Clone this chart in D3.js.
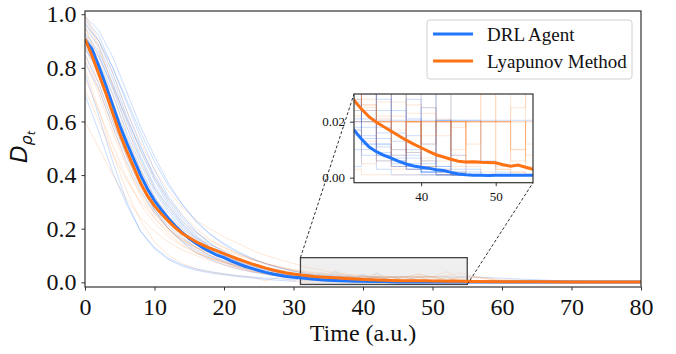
<!DOCTYPE html>
<html>
<head>
<meta charset="UTF-8">
<title>DRL Agent vs Lyapunov Method</title>
<style>
  body { margin: 0; background: #fff; }
  text { font-family: "Liberation Serif", "Times New Roman", Times, serif; fill: #111; }
  .axis path, .axis line { stroke: #333; }
</style>
</head>
<body>
<svg width="676" height="354"></svg>
<script src="https://cdn.jsdelivr.net/npm/d3@7"></script>
<script>
// time grid for the averaged curves
var meanT = [0,1,2,3,4,5,6,7,8,9,10,11,12,13,14,15,16,17,18,19,20,21,22,23,24,25,26,27,28,29,30,
  31,32,33,34,35,36,37,38,39,40,41,42,43,44,45,46,47,48,49,50,51,52,53,54,55,56,60,65,70,75,80];

var drlMean = [0.905,0.87,0.805,0.735,0.66,0.585,0.52,0.46,0.40,0.348,0.305,0.27,0.238,0.21,0.185,0.163,0.145,0.128,0.114,0.101,0.092,
  0.08,0.07,0.06,0.052,0.044,0.037,0.031,0.026,0.022,0.019,
  0.017,0.0138,0.011,0.0093,0.008,0.007,0.0058,0.0049,0.0042,0.0037,0.0034,0.0028,0.0026,0.0019,0.0013,0.001,0.0009,0.0009,0.0008,0.0009,
  0.0009,0.0009,0.0009,0.0009,0.0009,0.0009,0.0008,0.0008,0.0007,0.0007,0.0007];

var lyaMean = [0.907,0.845,0.775,0.705,0.63,0.555,0.49,0.43,0.37,0.322,0.285,0.255,0.228,0.203,0.182,0.166,0.151,0.139,0.127,0.117,0.107,
  0.097,0.087,0.078,0.069,0.061,0.053,0.046,0.04,0.035,0.031,
  0.0277,0.0245,0.0218,0.0198,0.0182,0.0166,0.015,0.0134,0.012,0.0107,0.0094,0.0082,0.0074,0.0066,0.0059,0.0056,0.0057,0.0055,0.0054,0.0053,
  0.0046,0.0041,0.0045,0.0037,0.003,0.0028,0.0022,0.0018,0.0015,0.0012,0.001];

// time grid for the single runs
var runT = [0,2,4,6,8,10,12,14,16,18,20,22,24,26,28,30,32,34,36,38,40,42,44,46,48,50,52,54,56,60,70,80];

var drlRuns = [
  [0.98,0.92,0.80,0.68,0.56,0.45,0.36,0.29,0.23,0.18,0.145,0.115,0.09,0.07,0.055,0.042,0.034,0.028,0.024,0.021,0.0205,0.0205,0.0205,0.0205,0.0205,0.0205,0.0205,0.0205,0.0205,0.015,0.004,0.001],
  [0.95,0.88,0.76,0.62,0.49,0.38,0.29,0.22,0.17,0.13,0.10,0.075,0.055,0.04,0.03,0.024,0.018,0.012,0.004,0.015,0.002,0.001,0.001,0.001,0.001,0.001,0.001,0.001,0.001,0.001,0.001,0.001],
  [0.70,0.56,0.41,0.29,0.19,0.125,0.085,0.06,0.045,0.035,0.028,0.021,0.016,0.011,0.007,0.004,0.03,0.003,0.001,0.001,0.001,0.001,0.001,0.001,0.001,0.001,0.001,0.001,0.001,0.001,0.001,0.001],
  [0.92,0.85,0.72,0.58,0.46,0.35,0.27,0.21,0.16,0.125,0.095,0.07,0.05,0.035,0.025,0.018,0.01,0.035,0.008,0.004,0.002,0.001,0.001,0.001,0.001,0.001,0.001,0.001,0.001,0.001,0.001,0.001],
  [0.85,0.74,0.60,0.47,0.36,0.27,0.21,0.165,0.13,0.10,0.08,0.062,0.048,0.036,0.027,0.02,0.014,0.009,0.006,0.028,0.003,0.002,0.001,0.001,0.001,0.001,0.001,0.001,0.001,0.001,0.001,0.001],
  [0.99,0.94,0.84,0.71,0.58,0.47,0.37,0.29,0.225,0.178,0.14,0.11,0.087,0.068,0.053,0.041,0.031,0.024,0.016,0.01,0.03,0.004,0.002,0.001,0.001,0.001,0.001,0.001,0.001,0.001,0.001,0.001],
  [0.78,0.62,0.45,0.30,0.19,0.13,0.09,0.065,0.05,0.04,0.032,0.025,0.02,0.016,0.013,0.01,0.008,0.006,0.004,0.003,0.002,0.001,0.001,0.001,0.001,0.001,0.001,0.001,0.001,0.001,0.001,0.001],
  [0.90,0.82,0.70,0.56,0.44,0.34,0.26,0.20,0.155,0.12,0.09,0.07,0.05,0.037,0.027,0.02,0.03,0.012,0.006,0.003,0.001,0.001,0.001,0.001,0.001,0.001,0.001,0.001,0.001,0.001,0.001,0.001],
  [0.96,0.90,0.80,0.67,0.54,0.42,0.32,0.25,0.19,0.145,0.11,0.085,0.065,0.05,0.038,0.028,0.021,0.0205,0.0205,0.0205,0.012,0.0205,0.008,0.003,0.001,0.001,0.001,0.001,0.001,0.001,0.001,0.001],
  [0.88,0.78,0.63,0.49,0.37,0.27,0.20,0.15,0.11,0.085,0.065,0.05,0.038,0.03,0.022,0.015,0.012,0.008,0.04,0.005,0.003,0.002,0.001,0.001,0.001,0.001,0.001,0.001,0.001,0.001,0.001,0.001],
  [0.93,0.86,0.74,0.60,0.47,0.36,0.28,0.215,0.165,0.13,0.10,0.078,0.06,0.045,0.034,0.026,0.02,0.016,0.03,0.008,0.005,0.0205,0.003,0.002,0.001,0.001,0.001,0.001,0.001,0.001,0.001,0.001],
  [0.82,0.72,0.58,0.45,0.34,0.26,0.20,0.155,0.12,0.095,0.075,0.058,0.044,0.033,0.024,0.017,0.012,0.008,0.005,0.003,0.002,0.035,0.001,0.001,0.001,0.001,0.001,0.001,0.001,0.001,0.001,0.001],
  [0.90,0.84,0.73,0.61,0.50,0.40,0.31,0.24,0.185,0.145,0.115,0.09,0.07,0.054,0.042,0.032,0.024,0.018,0.013,0.009,0.006,0.004,0.0205,0.0205,0.006,0.002,0.001,0.001,0.001,0.001,0.001,0.001],
  [0.87,0.79,0.67,0.54,0.42,0.32,0.245,0.19,0.15,0.115,0.088,0.066,0.05,0.038,0.028,0.021,0.015,0.011,0.007,0.004,0.025,0.002,0.001,0.001,0.001,0.001,0.001,0.001,0.001,0.001,0.001,0.001],
  [0.97,0.90,0.78,0.64,0.51,0.39,0.30,0.23,0.175,0.135,0.105,0.082,0.063,0.048,0.036,0.027,0.02,0.014,0.01,0.007,0.004,0.003,0.002,0.001,0.001,0.001,0.001,0.001,0.001,0.001,0.001,0.001]
];

var lyaRuns = [
  [1.0,0.90,0.78,0.64,0.52,0.42,0.34,0.28,0.23,0.20,0.17,0.145,0.12,0.10,0.085,0.07,0.055,0.045,0.035,0.03,0.025,0.02,0.02,0.012,0.02,0.02,0.01,0.004,0.003,0.002,0.001,0.001],
  [0.60,0.50,0.40,0.31,0.24,0.19,0.15,0.12,0.10,0.08,0.065,0.05,0.04,0.032,0.025,0.02,0.005,0.02,0.003,0.02,0.004,0.02,0.002,0.001,0.001,0.001,0.001,0.001,0.001,0.001,0.001,0.001],
  [0.93,0.80,0.65,0.50,0.37,0.27,0.20,0.15,0.115,0.09,0.07,0.055,0.043,0.033,0.025,0.02,0.02,0.006,0.02,0.02,0.003,0.001,0.001,0.001,0.001,0.001,0.001,0.001,0.001,0.001,0.001,0.001],
  [0.85,0.72,0.58,0.44,0.32,0.24,0.18,0.14,0.11,0.09,0.075,0.062,0.05,0.04,0.033,0.028,0.024,0.02,0.045,0.02,0.015,0.02,0.01,0.02,0.02,0.004,0.02,0.003,0.002,0.001,0.001,0.001],
  [0.97,0.87,0.74,0.61,0.49,0.39,0.31,0.25,0.20,0.16,0.13,0.105,0.085,0.07,0.057,0.046,0.038,0.032,0.027,0.023,0.02,0.02,0.018,0.02,0.03,0.02,0.04,0.012,0.006,0.003,0.001,0.001],
  [0.80,0.64,0.48,0.34,0.23,0.15,0.10,0.07,0.05,0.038,0.03,0.024,0.02,0.005,0.02,0.003,0.001,0.001,0.001,0.001,0.001,0.001,0.001,0.001,0.001,0.001,0.001,0.001,0.001,0.001,0.001,0.001],
  [0.91,0.78,0.62,0.47,0.35,0.26,0.20,0.16,0.13,0.11,0.095,0.08,0.065,0.05,0.04,0.032,0.026,0.02,0.02,0.009,0.02,0.006,0.02,0.02,0.005,0.003,0.002,0.001,0.001,0.001,0.001,0.001],
  [0.72,0.60,0.48,0.38,0.30,0.24,0.19,0.155,0.125,0.10,0.08,0.065,0.05,0.04,0.03,0.022,0.03,0.02,0.01,0.02,0.004,0.002,0.001,0.001,0.001,0.001,0.001,0.001,0.001,0.001,0.001,0.001],
  [0.95,0.84,0.70,0.55,0.42,0.32,0.25,0.20,0.165,0.14,0.12,0.10,0.085,0.07,0.058,0.048,0.04,0.035,0.03,0.026,0.023,0.021,0.02,0.02,0.02,0.02,0.025,0.035,0.02,0.01,0.002,0.001],
  [0.88,0.74,0.60,0.47,0.36,0.28,0.22,0.17,0.13,0.10,0.075,0.055,0.04,0.03,0.022,0.017,0.013,0.02,0.008,0.02,0.006,0.003,0.02,0.004,0.002,0.001,0.001,0.001,0.001,0.001,0.001,0.001],
  [0.90,0.78,0.64,0.50,0.38,0.29,0.23,0.18,0.145,0.12,0.10,0.082,0.066,0.052,0.04,0.031,0.025,0.02,0.02,0.02,0.007,0.02,0.02,0.005,0.02,0.003,0.002,0.001,0.001,0.001,0.001,0.001],
  [0.83,0.70,0.56,0.43,0.33,0.255,0.20,0.16,0.13,0.11,0.092,0.076,0.062,0.05,0.04,0.032,0.026,0.021,0.017,0.02,0.012,0.02,0.008,0.02,0.02,0.02,0.006,0.02,0.02,0.004,0.001,0.001],
  [0.95,0.82,0.67,0.52,0.39,0.30,0.235,0.185,0.15,0.125,0.105,0.088,0.072,0.058,0.046,0.036,0.028,0.022,0.02,0.003,0.02,0.02,0.004,0.001,0.001,0.001,0.001,0.001,0.001,0.001,0.001,0.001],
  [0.76,0.64,0.51,0.39,0.29,0.22,0.17,0.135,0.11,0.09,0.074,0.06,0.048,0.038,0.03,0.024,0.02,0.02,0.004,0.02,0.02,0.03,0.02,0.006,0.02,0.02,0.01,0.02,0.005,0.002,0.001,0.001],
  [0.99,0.88,0.73,0.58,0.45,0.35,0.28,0.225,0.185,0.155,0.13,0.108,0.088,0.07,0.055,0.043,0.034,0.027,0.022,0.02,0.02,0.015,0.02,0.02,0.03,0.02,0.02,0.008,0.02,0.006,0.002,0.001]
];

var seriesNames = ["DRL Agent", "Lyapunov Method"];
var xTicks = [0,10,20,30,40,50,60,70,80];
var yTicks = [0,0.2,0.4,0.6,0.8,1.0];
var insetXTicks = [40,50];
var insetYTicks = [0,0.02];
var zoomBox = {t0: 31, t1: 55, y0: -0.008, y1: 0.092};

var blue = "#2176ff", orange = "#ff7214";
var serif = "'Liberation Serif', 'Times New Roman', Times, serif";

var svg = d3.select("svg");

var x = d3.scaleLinear().domain([0, 80]).range([85, 641]);
var y = d3.scaleLinear().domain([-0.0175, 1.012]).range([287, 11]);

svg.append("defs").append("clipPath").attr("id", "mainClip")
  .append("rect").attr("x", 85).attr("y", 11).attr("width", 556).attr("height", 276);

function drawLines(g, xs, ys, curve) {
  var runLine = d3.line().curve(curve).x(function(d, i) { return xs(runT[i]); }).y(function(d) { return ys(d); });
  var meanLine = d3.line().x(function(d, i) { return xs(meanT[i]); }).y(function(d) { return ys(d); });

  g.selectAll(".drlRun").data(drlRuns).enter().append("path")
    .attr("d", runLine).attr("fill", "none")
    .attr("stroke", blue).attr("stroke-opacity", 0.3).attr("stroke-width", 0.8);
  g.selectAll(".lyaRun").data(lyaRuns).enter().append("path")
    .attr("d", runLine).attr("fill", "none")
    .attr("stroke", orange).attr("stroke-opacity", 0.22).attr("stroke-width", 0.8);
  return meanLine;
}

function drawMeans(g, meanLine) {
  g.append("path").attr("d", meanLine(drlMean)).attr("fill", "none")
    .attr("stroke", blue).attr("stroke-width", 3);
  g.append("path").attr("d", meanLine(lyaMean)).attr("fill", "none")
    .attr("stroke", orange).attr("stroke-width", 3);
}

function styleAxis(g, size) {
  g.attr("font-family", serif).attr("font-size", size);
  g.select(".domain").remove();
  g.selectAll("text").style("font-family", serif).style("font-size", size + "px").attr("fill", "#111");
}

// main plot
var plot = svg.append("g").attr("clip-path", "url(#mainClip)");
var mainMean = drawLines(plot, x, y, d3.curveLinear);

plot.append("rect")
  .attr("x", x(zoomBox.t0)).attr("y", y(zoomBox.y1))
  .attr("width", x(zoomBox.t1) - x(zoomBox.t0))
  .attr("height", y(zoomBox.y0) - y(zoomBox.y1))
  .attr("fill", "#d8d8d8").attr("fill-opacity", 0.4)
  .attr("stroke", "#444").attr("stroke-width", 1.3);

drawMeans(plot, mainMean);

// frame
svg.append("rect").attr("x", 85).attr("y", 11).attr("width", 556).attr("height", 276)
  .attr("fill", "none").attr("stroke", "#333").attr("stroke-width", 1.2);

svg.append("g").attr("class", "axis")
  .attr("transform", "translate(0,287)")
  .call(d3.axisBottom(x).tickValues(xTicks).tickSize(3.5).tickPadding(7).tickFormat(d3.format("d")))
  .call(styleAxis, 24);

svg.append("g").attr("class", "axis")
  .attr("transform", "translate(85,0)")
  .call(d3.axisLeft(y).tickValues(yTicks).tickSize(3.5).tickPadding(5).tickFormat(d3.format(".1f")))
  .call(styleAxis, 24);

svg.append("text")
  .attr("x", 363).attr("y", 341)
  .attr("text-anchor", "middle")
  .style("font-size", "24px")
  .text("Time (a.u.)");

var ylab = svg.append("text")
  .attr("transform", "translate(27,147) rotate(-90)")
  .attr("text-anchor", "middle")
  .style("font-family", "DejaVu Sans")
  .style("font-style", "italic");
ylab.append("tspan").style("font-size", "23px").text("D");
ylab.append("tspan").style("font-size", "16px").attr("dy", 5).text("\u03c1");
ylab.append("tspan").style("font-size", "11px").attr("dy", 3).text("t");

// inset
var xi = d3.scaleLinear().domain([zoomBox.t0, zoomBox.t1]).range([354, 533]);
var yi = d3.scaleLinear().domain([-0.0018, 0.0299]).range([182.7, 94]);

// connector lines from the box to the inset
svg.append("line")
  .attr("x1", x(zoomBox.t0)).attr("y1", y(zoomBox.y1)).attr("x2", 354).attr("y2", 94)
  .attr("stroke", "#333").attr("stroke-width", 1).attr("stroke-dasharray", "3,2");
svg.append("line")
  .attr("x1", x(zoomBox.t1)).attr("y1", y(zoomBox.y0)).attr("x2", 533).attr("y2", 182.7)
  .attr("stroke", "#333").attr("stroke-width", 1).attr("stroke-dasharray", "3,2");

svg.select("defs").append("clipPath").attr("id", "insetClip")
  .append("rect").attr("x", 354).attr("y", 94).attr("width", 179).attr("height", 88.7);

svg.append("rect").attr("x", 354).attr("y", 94).attr("width", 179).attr("height", 88.7).attr("fill", "#fff");
var inset = svg.append("g").attr("clip-path", "url(#insetClip)");
var insetMean = drawLines(inset, xi, yi, d3.curveStepAfter);
drawMeans(inset, insetMean);

svg.append("rect").attr("x", 354).attr("y", 94).attr("width", 179).attr("height", 88.7)
  .attr("fill", "none").attr("stroke", "#333").attr("stroke-width", 1.2);

svg.append("g").attr("class", "axis")
  .attr("transform", "translate(0,182.7)")
  .call(d3.axisBottom(xi).tickValues(insetXTicks).tickSize(3.5).tickPadding(6).tickFormat(d3.format("d")))
  .call(styleAxis, 13);

svg.append("g").attr("class", "axis")
  .attr("transform", "translate(354,0)")
  .call(d3.axisLeft(yi).tickValues(insetYTicks).tickSize(4).tickPadding(5).tickFormat(d3.format(".2f")))
  .call(styleAxis, 13);

// legend
var legend = svg.append("g").attr("transform", "translate(427,20)");
legend.append("rect").attr("width", 205).attr("height", 59).attr("rx", 3)
  .attr("fill", "#fff").attr("fill-opacity", 0.85).attr("stroke", "#d0d0d0");
legend.selectAll(".key").data(seriesNames).enter().append("line")
  .attr("x1", 6).attr("x2", 46)
  .attr("y1", function(d, i) { return 14 + i * 27; })
  .attr("y2", function(d, i) { return 14 + i * 27; })
  .attr("stroke", function(d, i) { return i == 0 ? blue : orange; })
  .attr("stroke-width", 3);
legend.selectAll(".lab").data(seriesNames).enter().append("text")
  .attr("x", 60)
  .attr("y", function(d, i) { return 21 + i * 27; })
  .style("font-size", "19px")
  .text(function(d) { return d; });
</script>
</body>
</html>
